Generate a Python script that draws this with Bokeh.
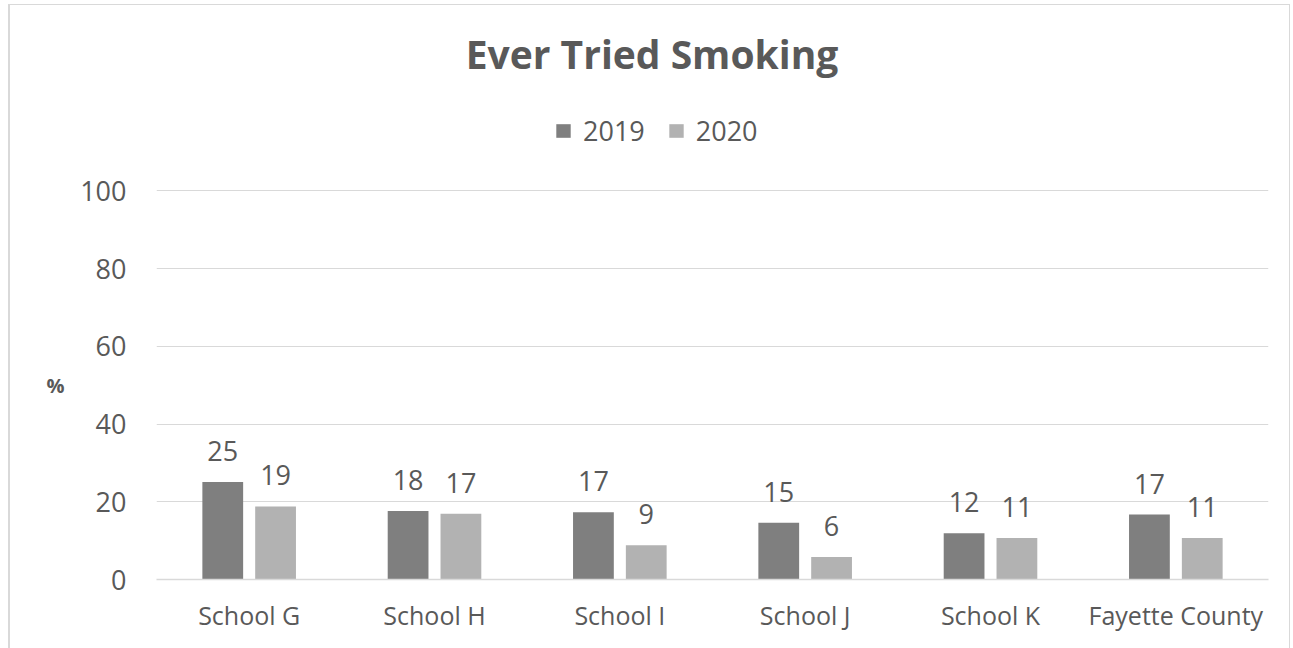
from bokeh.plotting import figure
from bokeh.models import (ColumnDataSource, FactorRange, Range1d, FixedTicker, Label,
                          Legend, LegendItem, LinearAxis)
from bokeh.transform import dodge
from bokeh.core.properties import value
from bokeh.embed import file_html
from bokeh.resources import INLINE

# ---- data ----
schools = ["School G", "School H", "School I", "School J", "School K", "Fayette County"]
series_names = ["2019", "2020"]
values_2019 = [25.1, 17.6, 17.3, 14.6, 11.9, 16.7]
values_2020 = [18.8, 16.9, 8.8, 5.8, 10.7, 10.7]
y_ticks = [0, 20, 40, 60, 80, 100]
title_text = "Ever Tried Smoking"
y_label = "%"

# ---- style ----
FONT = "Open Sans"
TEXT = "#595959"
GRID = "#d9d9d9"
C2019 = "#7f7f7f"
C2020 = "#b2b2b2"
OFFSET = 0.1425
BAR_W = 0.22
Y_TOP = 143.8      # headroom above 100 for title + legend
Y_LABEL_POS = 50   # vertical position of the "%" axis title

src = ColumnDataSource(dict(
    school=schools,
    v2019=values_2019,
    v2020=values_2020,
    l2019=[f"{v:.0f}" for v in values_2019],
    l2020=[f"{v:.0f}" for v in values_2020],
))

p = figure(
    x_range=FactorRange(*schools),
    y_range=Range1d(0, Y_TOP),
    width=1282, height=644,
    output_backend="svg", toolbar_location=None,
    min_border_left=146, min_border_right=24,
    min_border_top=15, min_border_bottom=70,
)
p.styles = {
    "border-top": "1px solid #d9d9d9",
    "border-left": "2px solid #d9d9d9",
    "border-right": "1px solid #d9d9d9",
    "margin-left": "8px",
    "margin-top": "4px",
}

r1 = p.vbar(x=dodge("school", -OFFSET, range=p.x_range), top="v2019", width=BAR_W,
            source=src, fill_color=C2019, line_color=None)
r2 = p.vbar(x=dodge("school", OFFSET, range=p.x_range), top="v2020", width=BAR_W,
            source=src, fill_color=C2020, line_color=None)

for col, off in (("2019", -OFFSET), ("2020", OFFSET)):
    p.text(x=dodge("school", off, range=p.x_range), y="v" + col, text="l" + col,
           source=src, text_align="center", text_baseline="alphabetic", y_offset=-31,
           text_font=value(FONT), text_font_size="27px", text_color=TEXT)

# main y axis
yax = p.yaxis[0]
yax.ticker = FixedTicker(ticks=y_ticks)
yax.axis_line_color = None
yax.major_tick_line_color = None
yax.minor_tick_line_color = None
yax.major_tick_out = 0
yax.major_tick_in = 0
yax.minor_tick_out = 0
yax.minor_tick_in = 0
yax.major_label_standoff = 30
yax.major_label_text_font = FONT
yax.major_label_text_font_size = "27px"
yax.major_label_text_color = TEXT
p.ygrid.ticker = FixedTicker(ticks=y_ticks)

# axis title "%" drawn as a second, outer left axis (horizontal text)
pct_axis = LinearAxis(
    ticker=FixedTicker(ticks=[Y_LABEL_POS]),
    major_label_overrides={Y_LABEL_POS: y_label},
    axis_line_color=None, major_tick_line_color=None, minor_tick_line_color=None,
    major_tick_out=0, major_tick_in=0, minor_tick_out=0, minor_tick_in=0,
    major_label_standoff=13,
    major_label_text_font=FONT, major_label_text_font_size="20px",
    major_label_text_font_style="bold", major_label_text_color=TEXT,
)
p.add_layout(pct_axis, "left")

xax = p.xaxis[0]
xax.axis_line_color = GRID
xax.axis_line_width = 1.5
xax.major_tick_line_color = None
xax.minor_tick_line_color = None
xax.major_tick_out = 0
xax.major_tick_in = 0
xax.major_label_standoff = 18
xax.major_label_text_font = FONT
xax.major_label_text_font_size = "25px"
xax.major_label_text_color = TEXT

p.xgrid.grid_line_color = None
p.ygrid.grid_line_color = GRID
p.ygrid.grid_line_width = 1
p.outline_line_color = None

legend = Legend(
    items=[LegendItem(label=series_names[0], renderers=[r1]),
           LegendItem(label=series_names[1], renderers=[r2])],
    orientation="horizontal", location=(398, 430),
    glyph_width=18, glyph_height=17, label_standoff=11, spacing=22,
    padding=0, margin=0, border_line_color=None, background_fill_alpha=0,
    label_text_font=FONT, label_text_font_size="27px", label_text_color=TEXT,
)
p.add_layout(legend)

p.add_layout(Label(x=495.5, y=526, x_units="screen", y_units="screen", text=title_text,
                   text_align="center", text_baseline="alphabetic", text_font=FONT,
                   text_font_size="39px", text_font_style="bold", text_color=TEXT))

open("out.html", "w").write(file_html(p, INLINE))
